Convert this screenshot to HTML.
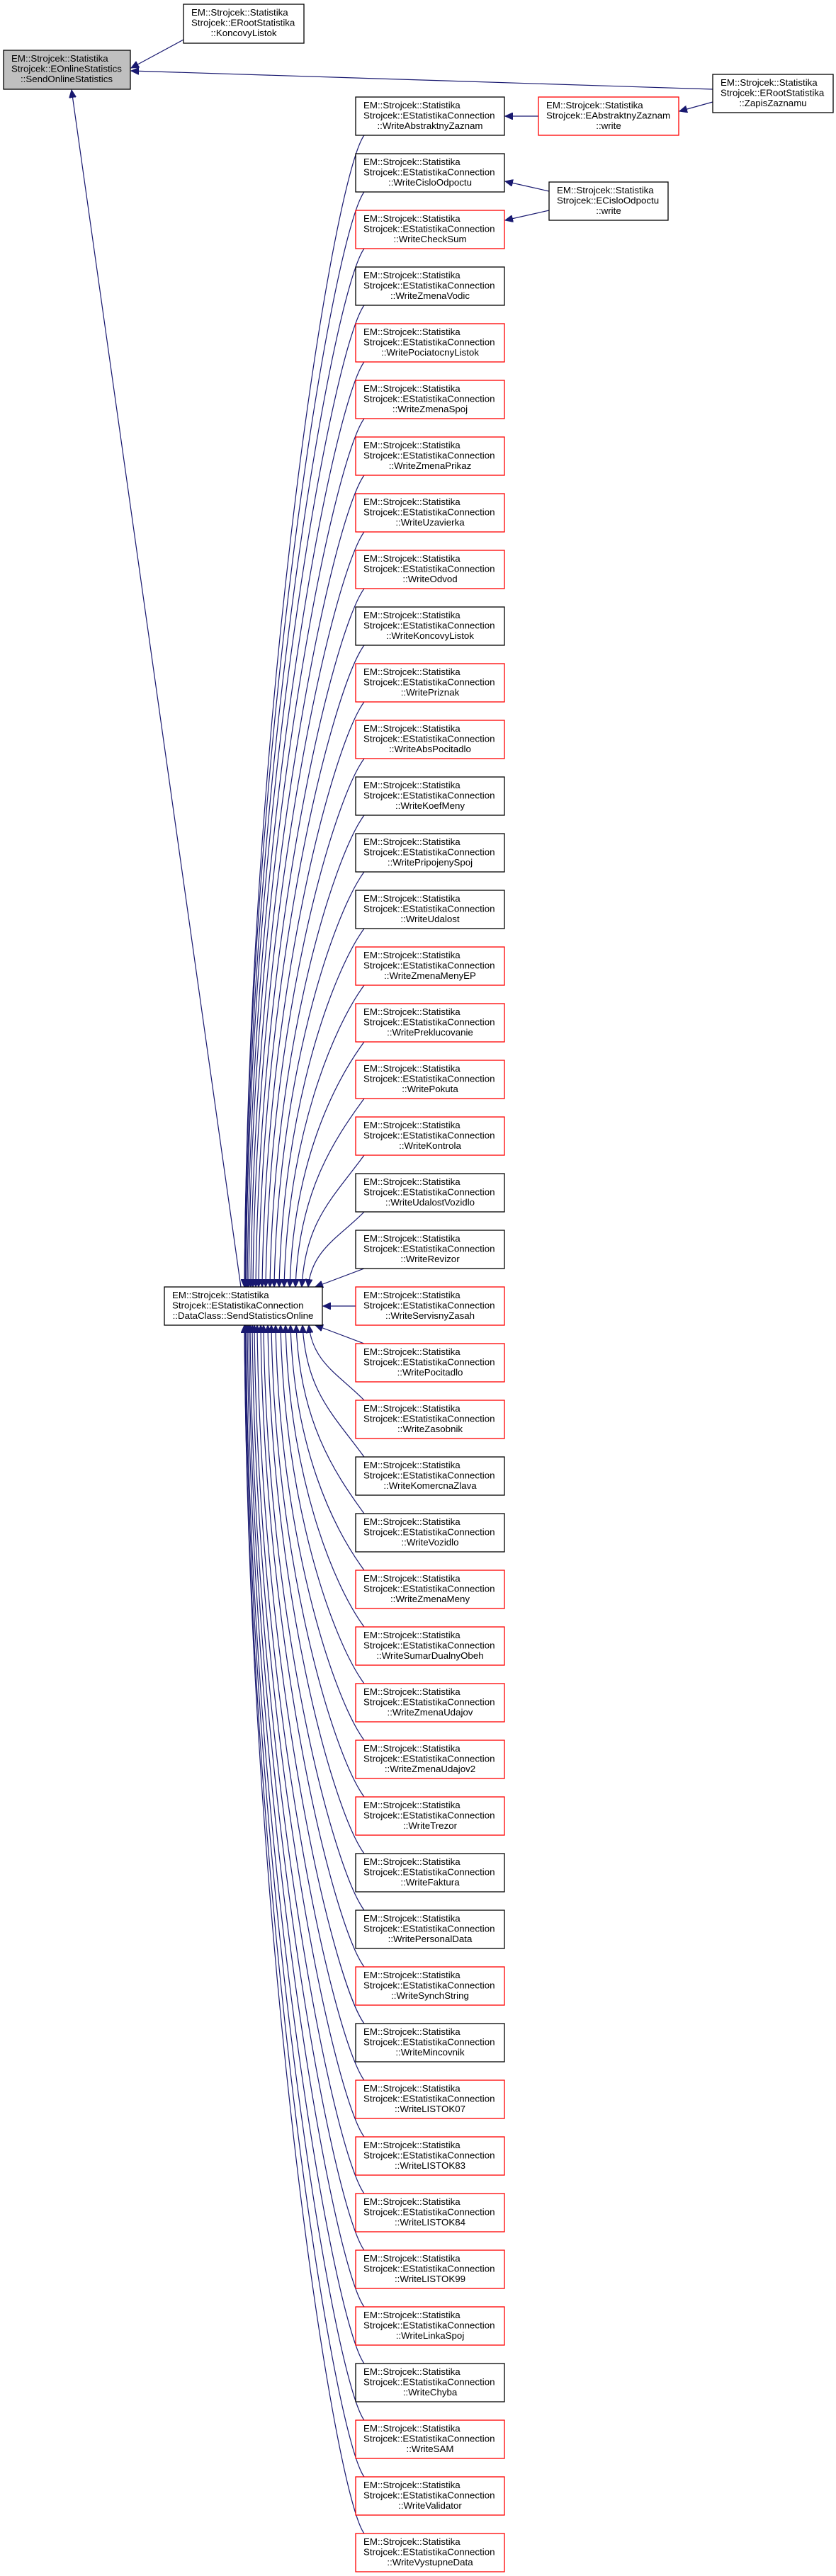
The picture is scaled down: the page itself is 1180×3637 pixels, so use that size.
<!DOCTYPE html>
<html><head><meta charset="utf-8">
<style>
html,body{margin:0;padding:0;background:#fff;}
svg{display:block;}
text{font-family:"Liberation Sans",sans-serif;font-size:13.3px;fill:#000;}
.e{fill:none;stroke:#191970;stroke-width:1.2;}
.bx{fill:#fff;stroke:#000;stroke-width:1.3;}
.rd{fill:#fff;stroke:#ff0000;stroke-width:1.3;}
</style></head><body>
<svg width="1180" height="3637" viewBox="0 0 1180 3637" xmlns="http://www.w3.org/2000/svg">
<defs>
<marker id="a" markerUnits="userSpaceOnUse" markerWidth="12" markerHeight="10" refX="11" refY="5" orient="auto" viewBox="0 0 12 10">
<path d="M0,0 L11,5 L0,10 z" fill="#191970" stroke="#191970"/>
</marker>
</defs>

<!-- top edges -->
<path class="e" marker-end="url(#a)" d="M259 56 L185 96"/>
<path class="e" marker-end="url(#a)" d="M1006 126 L185 100"/>
<path class="e" marker-end="url(#a)" d="M1006 144 L959 157"/>
<path class="e" marker-end="url(#a)" d="M760 164 L713 164"/>
<path class="e" marker-end="url(#a)" d="M775 270 L713 256"/>
<path class="e" marker-end="url(#a)" d="M775 297 L713 311"/>
<path class="e" marker-end="url(#a)" d="M340 1817 L101 127"/>

<!-- edges to DataClass from above -->
<path class="e" marker-end="url(#a)" d="M514 191 C470 251,350 1004,345 1817"/>
<path class="e" marker-end="url(#a)" d="M514 271 C470 331,350 1044,345 1817"/>
<path class="e" marker-end="url(#a)" d="M514 351 C470 411,351 1084,346 1817"/>
<path class="e" marker-end="url(#a)" d="M514 431 C470 491,352 1124,347 1817"/>
<path class="e" marker-end="url(#a)" d="M514 511 C470 571,354 1164,349 1817"/>
<path class="e" marker-end="url(#a)" d="M514 591 C470 651,356 1204,351 1817"/>
<path class="e" marker-end="url(#a)" d="M514 671 C470 731,359 1244,354 1817"/>
<path class="e" marker-end="url(#a)" d="M514 751 C470 811,362 1284,357 1817"/>
<path class="e" marker-end="url(#a)" d="M514 831 C470 891,366 1324,361 1817"/>
<path class="e" marker-end="url(#a)" d="M514 911 C470 971,370 1364,365 1817"/>
<path class="e" marker-end="url(#a)" d="M514 991 C470 1051,375 1404,370 1817"/>
<path class="e" marker-end="url(#a)" d="M514 1071 C470 1131,380 1444,375 1817"/>
<path class="e" marker-end="url(#a)" d="M514 1151 C470 1211,386 1484,381 1817"/>
<path class="e" marker-end="url(#a)" d="M514 1231 C470 1291,392 1524,387 1817"/>
<path class="e" marker-end="url(#a)" d="M514 1311 C470 1371,399 1564,394 1817"/>
<path class="e" marker-end="url(#a)" d="M514 1391 C470 1451,406 1604,401 1817"/>
<path class="e" marker-end="url(#a)" d="M514 1471 C470 1531,414 1644,409 1817"/>
<path class="e" marker-end="url(#a)" d="M514 1551 C470 1611,422 1684,417 1817"/>
<path class="e" marker-end="url(#a)" d="M514 1631 C470 1691,431 1724,426 1817"/>
<path class="e" marker-end="url(#a)" d="M514 1711 C480 1746,440 1764,435 1817"/>
<path class="e" marker-end="url(#a)" d="M514 1791 L445 1817"/>
<path class="e" marker-end="url(#a)" d="M502 1844 L456 1844"/>
<!-- edges from below -->
<path class="e" marker-end="url(#a)" d="M514 1897 L445 1871"/>
<path class="e" marker-end="url(#a)" d="M514 1977 C480 1942,441 1924,436 1871"/>
<path class="e" marker-end="url(#a)" d="M514 2057 C470 1997,432 1964,427 1871"/>
<path class="e" marker-end="url(#a)" d="M514 2137 C470 2077,423 2004,418 1871"/>
<path class="e" marker-end="url(#a)" d="M514 2217 C470 2157,415 2044,410 1871"/>
<path class="e" marker-end="url(#a)" d="M514 2297 C470 2237,408 2084,403 1871"/>
<path class="e" marker-end="url(#a)" d="M514 2377 C470 2317,401 2124,396 1871"/>
<path class="e" marker-end="url(#a)" d="M514 2457 C470 2397,394 2164,389 1871"/>
<path class="e" marker-end="url(#a)" d="M514 2537 C470 2477,388 2204,383 1871"/>
<path class="e" marker-end="url(#a)" d="M514 2617 C470 2557,383 2244,378 1871"/>
<path class="e" marker-end="url(#a)" d="M514 2697 C470 2637,377 2284,372 1871"/>
<path class="e" marker-end="url(#a)" d="M514 2777 C470 2717,373 2324,368 1871"/>
<path class="e" marker-end="url(#a)" d="M514 2857 C470 2797,368 2364,363 1871"/>
<path class="e" marker-end="url(#a)" d="M514 2937 C470 2877,364 2404,359 1871"/>
<path class="e" marker-end="url(#a)" d="M514 3017 C470 2957,361 2444,356 1871"/>
<path class="e" marker-end="url(#a)" d="M514 3097 C470 3037,358 2484,353 1871"/>
<path class="e" marker-end="url(#a)" d="M514 3177 C470 3117,356 2524,351 1871"/>
<path class="e" marker-end="url(#a)" d="M514 3257 C470 3197,354 2564,349 1871"/>
<path class="e" marker-end="url(#a)" d="M514 3337 C470 3277,352 2604,347 1871"/>
<path class="e" marker-end="url(#a)" d="M514 3417 C470 3357,351 2644,346 1871"/>
<path class="e" marker-end="url(#a)" d="M514 3497 C470 3437,350 2684,345 1871"/>
<path class="e" marker-end="url(#a)" d="M514 3577 C470 3517,350 2724,345 1871"/>

<!-- top nodes -->
<rect x="259" y="6" width="170" height="55" class="bx"/>
<text x="270" y="22">EM::Strojcek::Statistika</text>
<text x="270" y="36.5">Strojcek::ERootStatistika</text>
<text x="344" y="51" text-anchor="middle">::KoncovyListok</text>

<rect x="5" y="71" width="179" height="55" fill="#bfbfbf" stroke="#000" stroke-width="1.3"/>
<text x="16" y="87">EM::Strojcek::Statistika</text>
<text x="16" y="101.5">Strojcek::EOnlineStatistics</text>
<text x="94" y="116" text-anchor="middle">::SendOnlineStatistics</text>

<rect x="1006" y="105" width="170" height="54" class="bx"/>
<text x="1017" y="121">EM::Strojcek::Statistika</text>
<text x="1017" y="135.5">Strojcek::ERootStatistika</text>
<text x="1091" y="150" text-anchor="middle">::ZapisZaznamu</text>

<rect x="760" y="137" width="198" height="54" class="rd"/>
<text x="771" y="153">EM::Strojcek::Statistika</text>
<text x="771" y="167.5">Strojcek::EAbstraktnyZaznam</text>
<text x="859" y="182" text-anchor="middle">::write</text>

<rect x="775" y="257" width="168" height="54" class="bx"/>
<text x="786" y="273">EM::Strojcek::Statistika</text>
<text x="786" y="287.5">Strojcek::ECisloOdpoctu</text>
<text x="859" y="302" text-anchor="middle">::write</text>

<rect x="232" y="1817" width="223" height="54" class="bx"/>
<text x="243" y="1833">EM::Strojcek::Statistika</text>
<text x="243" y="1847.5">Strojcek::EStatistikaConnection</text>
<text x="343" y="1862" text-anchor="middle">::DataClass::SendStatisticsOnline</text>

<!-- write boxes -->
<g>
<rect x="502" y="137" width="210" height="54" class="bx"/><text x="513" y="153">EM::Strojcek::Statistika</text><text x="513" y="167.5">Strojcek::EStatistikaConnection</text><text x="607" y="182" text-anchor="middle">::WriteAbstraktnyZaznam</text>
<rect x="502" y="217" width="210" height="54" class="bx"/><text x="513" y="233">EM::Strojcek::Statistika</text><text x="513" y="247.5">Strojcek::EStatistikaConnection</text><text x="607" y="262" text-anchor="middle">::WriteCisloOdpoctu</text>
<rect x="502" y="297" width="210" height="54" class="rd"/><text x="513" y="313">EM::Strojcek::Statistika</text><text x="513" y="327.5">Strojcek::EStatistikaConnection</text><text x="607" y="342" text-anchor="middle">::WriteCheckSum</text>
<rect x="502" y="377" width="210" height="54" class="bx"/><text x="513" y="393">EM::Strojcek::Statistika</text><text x="513" y="407.5">Strojcek::EStatistikaConnection</text><text x="607" y="422" text-anchor="middle">::WriteZmenaVodic</text>
<rect x="502" y="457" width="210" height="54" class="rd"/><text x="513" y="473">EM::Strojcek::Statistika</text><text x="513" y="487.5">Strojcek::EStatistikaConnection</text><text x="607" y="502" text-anchor="middle">::WritePociatocnyListok</text>
<rect x="502" y="537" width="210" height="54" class="rd"/><text x="513" y="553">EM::Strojcek::Statistika</text><text x="513" y="567.5">Strojcek::EStatistikaConnection</text><text x="607" y="582" text-anchor="middle">::WriteZmenaSpoj</text>
<rect x="502" y="617" width="210" height="54" class="rd"/><text x="513" y="633">EM::Strojcek::Statistika</text><text x="513" y="647.5">Strojcek::EStatistikaConnection</text><text x="607" y="662" text-anchor="middle">::WriteZmenaPrikaz</text>
<rect x="502" y="697" width="210" height="54" class="rd"/><text x="513" y="713">EM::Strojcek::Statistika</text><text x="513" y="727.5">Strojcek::EStatistikaConnection</text><text x="607" y="742" text-anchor="middle">::WriteUzavierka</text>
<rect x="502" y="777" width="210" height="54" class="rd"/><text x="513" y="793">EM::Strojcek::Statistika</text><text x="513" y="807.5">Strojcek::EStatistikaConnection</text><text x="607" y="822" text-anchor="middle">::WriteOdvod</text>
<rect x="502" y="857" width="210" height="54" class="bx"/><text x="513" y="873">EM::Strojcek::Statistika</text><text x="513" y="887.5">Strojcek::EStatistikaConnection</text><text x="607" y="902" text-anchor="middle">::WriteKoncovyListok</text>
<rect x="502" y="937" width="210" height="54" class="rd"/><text x="513" y="953">EM::Strojcek::Statistika</text><text x="513" y="967.5">Strojcek::EStatistikaConnection</text><text x="607" y="982" text-anchor="middle">::WritePriznak</text>
<rect x="502" y="1017" width="210" height="54" class="rd"/><text x="513" y="1033">EM::Strojcek::Statistika</text><text x="513" y="1047.5">Strojcek::EStatistikaConnection</text><text x="607" y="1062" text-anchor="middle">::WriteAbsPocitadlo</text>
<rect x="502" y="1097" width="210" height="54" class="bx"/><text x="513" y="1113">EM::Strojcek::Statistika</text><text x="513" y="1127.5">Strojcek::EStatistikaConnection</text><text x="607" y="1142" text-anchor="middle">::WriteKoefMeny</text>
<rect x="502" y="1177" width="210" height="54" class="bx"/><text x="513" y="1193">EM::Strojcek::Statistika</text><text x="513" y="1207.5">Strojcek::EStatistikaConnection</text><text x="607" y="1222" text-anchor="middle">::WritePripojenySpoj</text>
<rect x="502" y="1257" width="210" height="54" class="bx"/><text x="513" y="1273">EM::Strojcek::Statistika</text><text x="513" y="1287.5">Strojcek::EStatistikaConnection</text><text x="607" y="1302" text-anchor="middle">::WriteUdalost</text>
<rect x="502" y="1337" width="210" height="54" class="rd"/><text x="513" y="1353">EM::Strojcek::Statistika</text><text x="513" y="1367.5">Strojcek::EStatistikaConnection</text><text x="607" y="1382" text-anchor="middle">::WriteZmenaMenyEP</text>
<rect x="502" y="1417" width="210" height="54" class="rd"/><text x="513" y="1433">EM::Strojcek::Statistika</text><text x="513" y="1447.5">Strojcek::EStatistikaConnection</text><text x="607" y="1462" text-anchor="middle">::WritePreklucovanie</text>
<rect x="502" y="1497" width="210" height="54" class="rd"/><text x="513" y="1513">EM::Strojcek::Statistika</text><text x="513" y="1527.5">Strojcek::EStatistikaConnection</text><text x="607" y="1542" text-anchor="middle">::WritePokuta</text>
<rect x="502" y="1577" width="210" height="54" class="rd"/><text x="513" y="1593">EM::Strojcek::Statistika</text><text x="513" y="1607.5">Strojcek::EStatistikaConnection</text><text x="607" y="1622" text-anchor="middle">::WriteKontrola</text>
<rect x="502" y="1657" width="210" height="54" class="bx"/><text x="513" y="1673">EM::Strojcek::Statistika</text><text x="513" y="1687.5">Strojcek::EStatistikaConnection</text><text x="607" y="1702" text-anchor="middle">::WriteUdalostVozidlo</text>
<rect x="502" y="1737" width="210" height="54" class="bx"/><text x="513" y="1753">EM::Strojcek::Statistika</text><text x="513" y="1767.5">Strojcek::EStatistikaConnection</text><text x="607" y="1782" text-anchor="middle">::WriteRevizor</text>
<rect x="502" y="1817" width="210" height="54" class="rd"/><text x="513" y="1833">EM::Strojcek::Statistika</text><text x="513" y="1847.5">Strojcek::EStatistikaConnection</text><text x="607" y="1862" text-anchor="middle">::WriteServisnyZasah</text>
<rect x="502" y="1897" width="210" height="54" class="rd"/><text x="513" y="1913">EM::Strojcek::Statistika</text><text x="513" y="1927.5">Strojcek::EStatistikaConnection</text><text x="607" y="1942" text-anchor="middle">::WritePocitadlo</text>
<rect x="502" y="1977" width="210" height="54" class="rd"/><text x="513" y="1993">EM::Strojcek::Statistika</text><text x="513" y="2007.5">Strojcek::EStatistikaConnection</text><text x="607" y="2022" text-anchor="middle">::WriteZasobnik</text>
<rect x="502" y="2057" width="210" height="54" class="bx"/><text x="513" y="2073">EM::Strojcek::Statistika</text><text x="513" y="2087.5">Strojcek::EStatistikaConnection</text><text x="607" y="2102" text-anchor="middle">::WriteKomercnaZlava</text>
<rect x="502" y="2137" width="210" height="54" class="bx"/><text x="513" y="2153">EM::Strojcek::Statistika</text><text x="513" y="2167.5">Strojcek::EStatistikaConnection</text><text x="607" y="2182" text-anchor="middle">::WriteVozidlo</text>
<rect x="502" y="2217" width="210" height="54" class="rd"/><text x="513" y="2233">EM::Strojcek::Statistika</text><text x="513" y="2247.5">Strojcek::EStatistikaConnection</text><text x="607" y="2262" text-anchor="middle">::WriteZmenaMeny</text>
<rect x="502" y="2297" width="210" height="54" class="rd"/><text x="513" y="2313">EM::Strojcek::Statistika</text><text x="513" y="2327.5">Strojcek::EStatistikaConnection</text><text x="607" y="2342" text-anchor="middle">::WriteSumarDualnyObeh</text>
<rect x="502" y="2377" width="210" height="54" class="rd"/><text x="513" y="2393">EM::Strojcek::Statistika</text><text x="513" y="2407.5">Strojcek::EStatistikaConnection</text><text x="607" y="2422" text-anchor="middle">::WriteZmenaUdajov</text>
<rect x="502" y="2457" width="210" height="54" class="rd"/><text x="513" y="2473">EM::Strojcek::Statistika</text><text x="513" y="2487.5">Strojcek::EStatistikaConnection</text><text x="607" y="2502" text-anchor="middle">::WriteZmenaUdajov2</text>
<rect x="502" y="2537" width="210" height="54" class="rd"/><text x="513" y="2553">EM::Strojcek::Statistika</text><text x="513" y="2567.5">Strojcek::EStatistikaConnection</text><text x="607" y="2582" text-anchor="middle">::WriteTrezor</text>
<rect x="502" y="2617" width="210" height="54" class="bx"/><text x="513" y="2633">EM::Strojcek::Statistika</text><text x="513" y="2647.5">Strojcek::EStatistikaConnection</text><text x="607" y="2662" text-anchor="middle">::WriteFaktura</text>
<rect x="502" y="2697" width="210" height="54" class="bx"/><text x="513" y="2713">EM::Strojcek::Statistika</text><text x="513" y="2727.5">Strojcek::EStatistikaConnection</text><text x="607" y="2742" text-anchor="middle">::WritePersonalData</text>
<rect x="502" y="2777" width="210" height="54" class="rd"/><text x="513" y="2793">EM::Strojcek::Statistika</text><text x="513" y="2807.5">Strojcek::EStatistikaConnection</text><text x="607" y="2822" text-anchor="middle">::WriteSynchString</text>
<rect x="502" y="2857" width="210" height="54" class="bx"/><text x="513" y="2873">EM::Strojcek::Statistika</text><text x="513" y="2887.5">Strojcek::EStatistikaConnection</text><text x="607" y="2902" text-anchor="middle">::WriteMincovnik</text>
<rect x="502" y="2937" width="210" height="54" class="rd"/><text x="513" y="2953">EM::Strojcek::Statistika</text><text x="513" y="2967.5">Strojcek::EStatistikaConnection</text><text x="607" y="2982" text-anchor="middle">::WriteLISTOK07</text>
<rect x="502" y="3017" width="210" height="54" class="rd"/><text x="513" y="3033">EM::Strojcek::Statistika</text><text x="513" y="3047.5">Strojcek::EStatistikaConnection</text><text x="607" y="3062" text-anchor="middle">::WriteLISTOK83</text>
<rect x="502" y="3097" width="210" height="54" class="rd"/><text x="513" y="3113">EM::Strojcek::Statistika</text><text x="513" y="3127.5">Strojcek::EStatistikaConnection</text><text x="607" y="3142" text-anchor="middle">::WriteLISTOK84</text>
<rect x="502" y="3177" width="210" height="54" class="rd"/><text x="513" y="3193">EM::Strojcek::Statistika</text><text x="513" y="3207.5">Strojcek::EStatistikaConnection</text><text x="607" y="3222" text-anchor="middle">::WriteLISTOK99</text>
<rect x="502" y="3257" width="210" height="54" class="rd"/><text x="513" y="3273">EM::Strojcek::Statistika</text><text x="513" y="3287.5">Strojcek::EStatistikaConnection</text><text x="607" y="3302" text-anchor="middle">::WriteLinkaSpoj</text>
<rect x="502" y="3337" width="210" height="54" class="bx"/><text x="513" y="3353">EM::Strojcek::Statistika</text><text x="513" y="3367.5">Strojcek::EStatistikaConnection</text><text x="607" y="3382" text-anchor="middle">::WriteChyba</text>
<rect x="502" y="3417" width="210" height="54" class="rd"/><text x="513" y="3433">EM::Strojcek::Statistika</text><text x="513" y="3447.5">Strojcek::EStatistikaConnection</text><text x="607" y="3462" text-anchor="middle">::WriteSAM</text>
<rect x="502" y="3497" width="210" height="54" class="rd"/><text x="513" y="3513">EM::Strojcek::Statistika</text><text x="513" y="3527.5">Strojcek::EStatistikaConnection</text><text x="607" y="3542" text-anchor="middle">::WriteValidator</text>
<rect x="502" y="3577" width="210" height="54" class="rd"/><text x="513" y="3593">EM::Strojcek::Statistika</text><text x="513" y="3607.5">Strojcek::EStatistikaConnection</text><text x="607" y="3622" text-anchor="middle">::WriteVystupneData</text>
</g>
</svg>
</body></html>
